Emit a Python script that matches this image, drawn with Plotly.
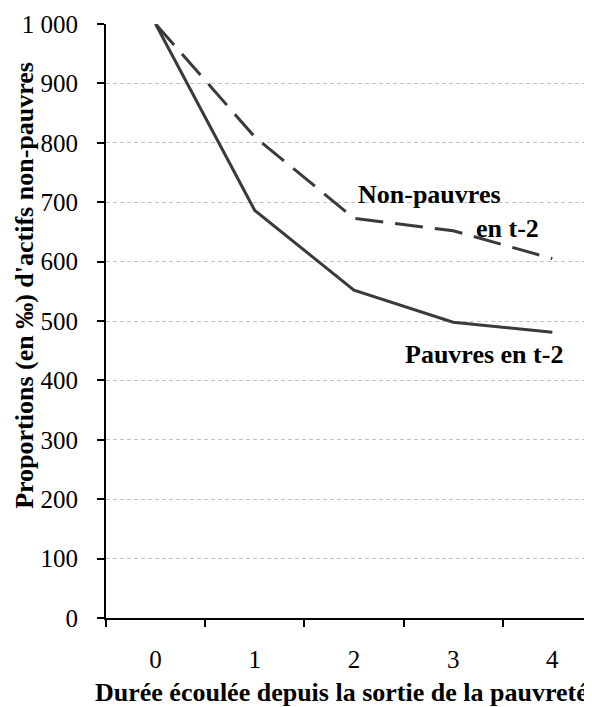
import plotly.graph_objects as go

categories = ["0", "1", "2", "3", "4"]
pauvres = [1000, 686, 552, 498, 481]
non_pauvres = [1000, 810, 673, 652, 605]
y_tickvals = [0, 100, 200, 300, 400, 500, 600, 700, 800, 900, 1000]
y_ticktext = ["0", "100", "200", "300", "400", "500", "600", "700", "800", "900", "1 000"]

FONT = "Liberation Serif"
LINE = "#3a3a3a"
FS = 25
FT = 26

fig = go.Figure()
fig.add_trace(go.Scatter(x=categories, y=non_pauvres, mode="lines",
                         line=dict(color=LINE, width=3, dash="28px,12px"),
                         name="Non-pauvres en t-2"))
fig.add_trace(go.Scatter(x=categories, y=pauvres, mode="lines",
                         line=dict(color=LINE, width=3),
                         name="Pauvres en t-2"))

fig.update_layout(
    width=584, height=699,
    margin=dict(l=98, r=0, t=16, b=89),
    paper_bgcolor="white", plot_bgcolor="white",
    showlegend=False,
    font=dict(family=FONT, color="black", size=FS),
    xaxis=dict(
        type="category", tickson="boundaries", range=[-0.5, 4.4],
        ticks="outside", ticklen=7, tickcolor="black", tickwidth=2,
        showline=True, linecolor="black", linewidth=2,
        showgrid=False, ticklabelstandoff=18, automargin=False,
        tickfont=dict(size=FS, family=FONT, color="black"),
    ),
    yaxis=dict(
        range=[0, 1000], tickmode="array", tickvals=y_tickvals, ticktext=y_ticktext,
        ticks="outside", ticklen=7, tickcolor="black", tickwidth=1.5,
        showline=True, linecolor="black", linewidth=2,
        showgrid=True, gridcolor="#c4c4c4", griddash="4px,3px", gridwidth=1,
        zeroline=False, automargin=False, ticklabelstandoff=14,
        tickfont=dict(size=FS, family=FONT, color="black"),
    ),
)

# axis titles
fig.add_annotation(xref="paper", yref="paper", x=0.485, y=0, yshift=-74,
                   xanchor="center", yanchor="middle", showarrow=False,
                   text="<b>Durée écoulée depuis la sortie de la pauvreté</b>",
                   font=dict(size=FT, family=FONT, color="black"))
fig.add_annotation(xref="paper", yref="paper", x=-0.169, y=0.5606,
                   xanchor="center", yanchor="middle", showarrow=False, textangle=-90,
                   text="<b>Proportions (en ‰) d'actifs non-pauvres</b>",
                   font=dict(size=FT, family=FONT, color="black"))

# series labels
fig.add_annotation(x=2.76, y=713, xref="x", yref="y", text="<b>Non-pauvres</b>",
                   showarrow=False, font=dict(size=FT, family=FONT, color="black"))
fig.add_annotation(x=3.55, y=655, xref="x", yref="y", text="<b>en t-2</b>",
                   showarrow=False, font=dict(size=FT, family=FONT, color="black"))
fig.add_annotation(x=3.31, y=444, xref="x", yref="y", text="<b>Pauvres en t-2</b>",
                   showarrow=False, font=dict(size=FT, family=FONT, color="black"))

fig.write_html("out.html")
